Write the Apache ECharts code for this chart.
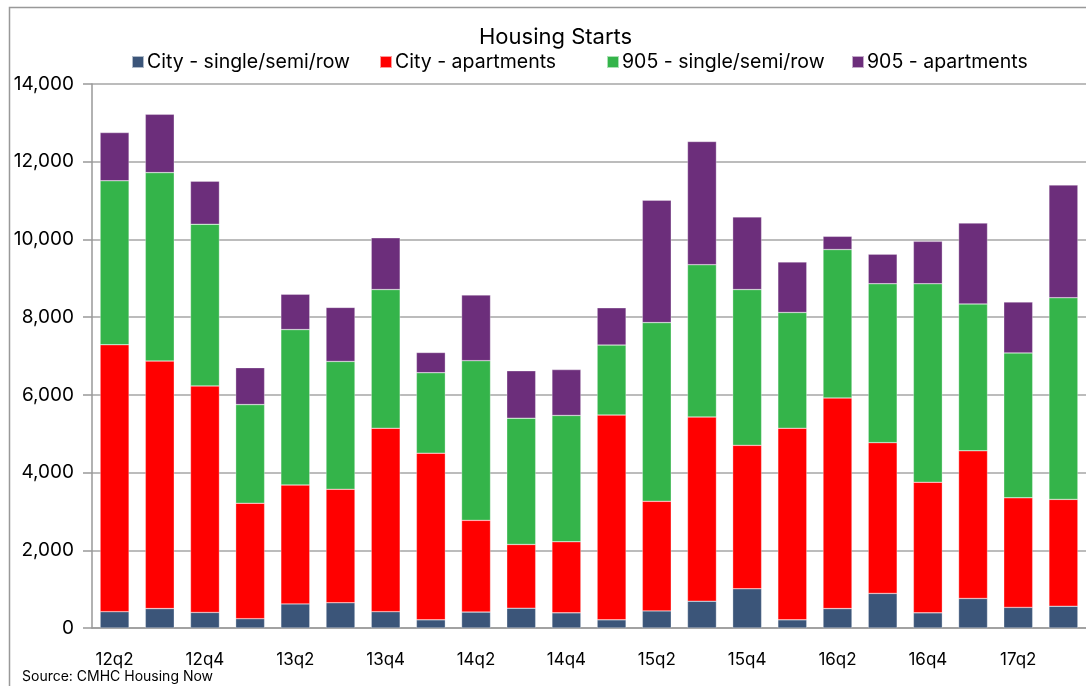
<!DOCTYPE html>
<html><head><meta charset="utf-8">
<script src="https://cdn.jsdelivr.net/npm/echarts@6/dist/echarts.min.js"></script>
<style>html,body{margin:0;padding:0;background:#fff;}#c{width:1086px;height:686px;}</style>
</head><body><div id="c"></div>
<script>
const categories = ['12q2','12q3','12q4','13q1','13q2','13q3','13q4','14q1','14q2','14q3','14q4','15q1','15q2','15q3','15q4','16q1','16q2','16q3','16q4','17q1','17q2','17q3'];
const citySingle = [420,500,400,240,620,650,420,210,410,510,390,210,440,690,1010,210,500,890,390,760,530,560];
const cityApt = [6870,6370,5830,2970,3060,2920,4720,4290,2360,1640,1830,5270,2820,4740,3690,4930,5420,3880,3360,3800,2820,2750];
const s905Single = [4220,4850,4160,2540,4000,3290,3570,2070,4110,3250,3250,1800,4600,3920,4010,2980,3820,4090,5110,3780,3730,5190];
const s905Apt = [1240,1500,1110,950,910,1390,1330,520,1690,1220,1180,960,3150,3170,1870,1300,340,760,1090,2080,1310,2900];
const seriesNames = ['City - single/semi/row','City - apartments','905 - single/semi/row','905 - apartments'];
const yTicks = [0,2000,4000,6000,8000,10000,12000,14000];

const FONT = 'Inter';
const chart = echarts.init(document.getElementById('c'), null, {renderer:'canvas'});
function ser(name, data, color){
  return {name, type:'bar', stack:'total', data, barWidth:'64%',
    itemStyle:{color, borderColor:'rgba(255,255,255,0.6)', borderWidth:0.5}};
}
const legendLefts = [129, 377, 604, 849];
chart.setOption({
  animation:false,
  backgroundColor:'#fff',
  textStyle:{fontFamily:FONT},
  title:{text:'Housing Starts', left:474, top:21,
    textStyle:{fontFamily:FONT, fontSize:22, fontWeight:'normal', color:'#000'}},
  legend: seriesNames.map((n,i)=>({top:50, left:legendLefts[i], itemWidth:12, itemHeight:12,
    icon:'rect', padding:2,
    textStyle:{fontFamily:FONT, fontSize:19.5, color:'#000', padding:[0,0,0,-2]},
    data:[n]})),
  grid:{left:92, right:0, top:84, bottom:58, containLabel:false},
  xAxis:{type:'category', data:categories,
    axisLine:{lineStyle:{color:'#999', width:1.5}},
    axisTick:{show:false},
    axisLabel:{interval:1, margin:23, fontFamily:FONT, fontSize:17, color:'#000'}},
  yAxis:{type:'value', min:0, max:14000, interval:2000,
    axisLine:{show:true, lineStyle:{color:'#999', width:1.5}},
    axisTick:{show:true, length:9, lineStyle:{color:'#999', width:1.5}},
    splitLine:{lineStyle:{color:'#a6a6a6', width:1.5}},
    axisLabel:{margin:18, fontFamily:FONT, fontSize:19, color:'#000',
      formatter:v=>yTicks.includes(v)?v.toLocaleString('en-US'):''}},
  series:[
    ser(seriesNames[0], citySingle, '#3B5579'),
    ser(seriesNames[1], cityApt, '#FF0000'),
    ser(seriesNames[2], s905Single, '#34B44A'),
    ser(seriesNames[3], s905Apt, '#6C2E7B')
  ],
  graphic:[
    {type:'rect', shape:{x:9.5, y:7.5, width:1200, height:800}, style:{fill:'none', stroke:'#999', lineWidth:1.5}, silent:true},
    {type:'text', left:22, top:670, style:{text:'Source: CMHC Housing Now', font:'14px '+FONT, fill:'#000'}}
  ]
});
</script></body></html>
